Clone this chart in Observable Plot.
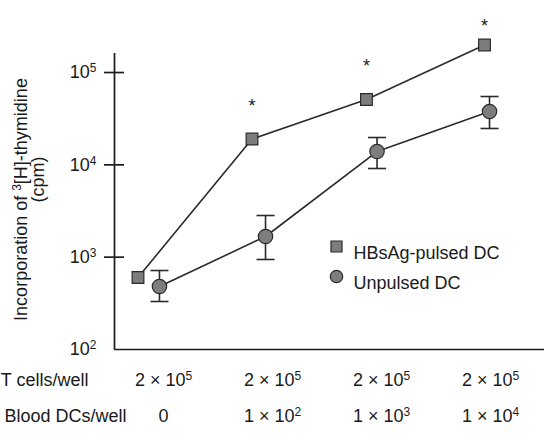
<!DOCTYPE html>
<html><head><meta charset="utf-8">
<script src="https://cdn.jsdelivr.net/npm/d3@7"></script>
<script src="https://cdn.jsdelivr.net/npm/@observablehq/plot@0.6"></script>
<style>
  html,body{margin:0;padding:0;background:#fff}
  #chart svg{display:block}
</style>
</head><body><div id="chart"></div>
<script>
// ---- data ----
const columns = [0, 1, 2, 3];
const tCellLabels = ["2 × 10^5", "2 × 10^5", "2 × 10^5", "2 × 10^5"];
const dcLabels = ["0", "1 × 10^2", "1 × 10^3", "1 × 10^4"];
const rowTitles = ["T cells/well", "Blood DCs/well"];
const seriesNames = ["HBsAg-pulsed DC", "Unpulsed DC"];

const pulsedPos = [-0.234, 0.812, 1.862, 2.945];
const pulsedCpm = [602, 19050, 51050, 198600];
const starLevel = [null, 47300, 128300, 348100];

const unpulsedPos = [-0.037, 0.936, 1.959, 2.991];
const unpulsedCpm = [481, 1675, 13940, 37840];
const unpulsedHi = [717, 2827, 19770, 54960];
const unpulsedLo = [331, 944, 9130, 24760];

const yTickValues = [1e2, 1e3, 1e4, 1e5];
const yTitle = ["Incorporation of ^3[H]-thymidine", "(cpm)"];

const xDomain = [-0.4495, 3.4954];
const yDomain = [100, 160700];

// ---- build tables ----
const pulsed = pulsedPos.map((x, i) => ({x, y: pulsedCpm[i], star: starLevel[i]}));
const unpulsed = unpulsedPos.map((x, i) => ({x, y: unpulsedCpm[i], hi: unpulsedHi[i], lo: unpulsedLo[i]}));
const stars = pulsed.filter(d => d.star != null);

const ink = "#1a1a1a";
const markFill = "#7d7d7d";
const markStroke = "#2a2a2a";
const capSymbol = {draw(ctx, size) { const w = Math.sqrt(size / Math.PI); ctx.moveTo(-w, 0); ctx.lineTo(w, 0); }};

const chart = Plot.plot({
  width: 544, height: 434,
  marginLeft: 114, marginRight: 0, marginTop: 53, marginBottom: 85,
  style: {fontFamily: "'Liberation Sans', Arial, Helvetica, sans-serif", fontSize: "18px", color: ink, background: "#fff", overflow: "visible"},
  x: {domain: xDomain, axis: null},
  y: {type: "log", domain: yDomain, label: null},
  marks: [
    Plot.ruleY([yTickValues[0]], {stroke: ink, strokeWidth: 1.7}),
    Plot.ruleX([xDomain[0]], {stroke: ink, strokeWidth: 1.7}),
    Plot.axisY({ticks: yTickValues.slice(1), tickSize: 20, dx: 10, tickFormat: () => "", label: null, stroke: ink, strokeWidth: 1.7}),
    Plot.axisY({ticks: yTickValues, tickSize: 0, tickPadding: 18, tickFormat: d => "10^" + Math.round(Math.log10(d)), label: null, fill: ink}),
    // y title
    Plot.text([yTitle[0]], {text: d => d, frameAnchor: "left", textAnchor: "middle", rotate: -90, dx: -93, dy: -2, fill: ink}),
    Plot.text([yTitle[1]], {text: d => d, frameAnchor: "left", textAnchor: "middle", rotate: -90, dx: -76, dy: -22, fill: ink}),
    // lines
    Plot.line(pulsed, {x: "x", y: "y", stroke: markStroke, strokeWidth: 1.6}),
    Plot.line(unpulsed, {x: "x", y: "y", stroke: markStroke, strokeWidth: 1.6}),
    // error bars
    Plot.ruleX(unpulsed, {x: "x", y1: "lo", y2: "hi", stroke: markStroke, strokeWidth: 1.6}),
    Plot.dot(unpulsed, {x: "x", y: "hi", symbol: capSymbol, r: 9, stroke: markStroke, strokeWidth: 1.6, fill: "none"}),
    Plot.dot(unpulsed, {x: "x", y: "lo", symbol: capSymbol, r: 9, stroke: markStroke, strokeWidth: 1.6, fill: "none"}),
    // markers
    Plot.dot(pulsed, {x: "x", y: "y", symbol: "square", r: 6.6, fill: markFill, stroke: markStroke, strokeWidth: 1.2}),
    Plot.dot(unpulsed, {x: "x", y: "y", symbol: "circle", r: 7.2, fill: markFill, stroke: markStroke, strokeWidth: 1.2}),
    // significance asterisks
    Plot.text(stars, {x: "x", y: "star", text: () => "*", dy: 4, fill: ink}),
    // legend
    Plot.dot([seriesNames[0]], {frameAnchor: "top-left", dx: 222, dy: 193, symbol: "square", r: 6.2, fill: markFill, stroke: markStroke, strokeWidth: 1.2}),
    Plot.text([seriesNames[0]], {text: d => d, frameAnchor: "top-left", dx: 239, dy: 193, textAnchor: "start", fill: ink}),
    Plot.dot([seriesNames[1]], {frameAnchor: "top-left", dx: 222, dy: 223, symbol: "circle", r: 6.2, fill: markFill, stroke: markStroke, strokeWidth: 1.2}),
    Plot.text([seriesNames[1]], {text: d => d, frameAnchor: "top-left", dx: 239, dy: 223, textAnchor: "start", fill: ink}),
    // bottom table
    Plot.text(columns, {x: d => d, text: (d, i) => tCellLabels[i], frameAnchor: "bottom", dy: 36, fill: ink}),
    Plot.text(columns, {x: d => d, text: (d, i) => dcLabels[i], frameAnchor: "bottom", dy: 72, fill: ink}),
    Plot.text([rowTitles[0]], {text: d => d, frameAnchor: "bottom-left", dx: -26, dy: 36, textAnchor: "end", fill: ink}),
    Plot.text([rowTitles[1]], {text: d => d, frameAnchor: "bottom-left", dx: 12, dy: 72, textAnchor: "end", fill: ink})
  ]
});

// turn "^n" into real superscript tspans
const NS = "http://www.w3.org/2000/svg";
chart.querySelectorAll("text").forEach(el => {
  const s = el.textContent;
  if (!s.includes("^")) return;
  el.textContent = "";
  const re = /\^(\d+)/g; let last = 0, m;
  while ((m = re.exec(s))) {
    if (m.index > last) el.appendChild(document.createTextNode(s.slice(last, m.index)));
    const t = document.createElementNS(NS, "tspan");
    t.setAttribute("font-size", "12px");
    t.setAttribute("baseline-shift", "6px");
    t.textContent = m[1];
    el.appendChild(t);
    last = m.index + m[0].length;
  }
  if (last < s.length) el.appendChild(document.createTextNode(s.slice(last)));
});

document.getElementById("chart").appendChild(chart);
</script>
</body></html>
